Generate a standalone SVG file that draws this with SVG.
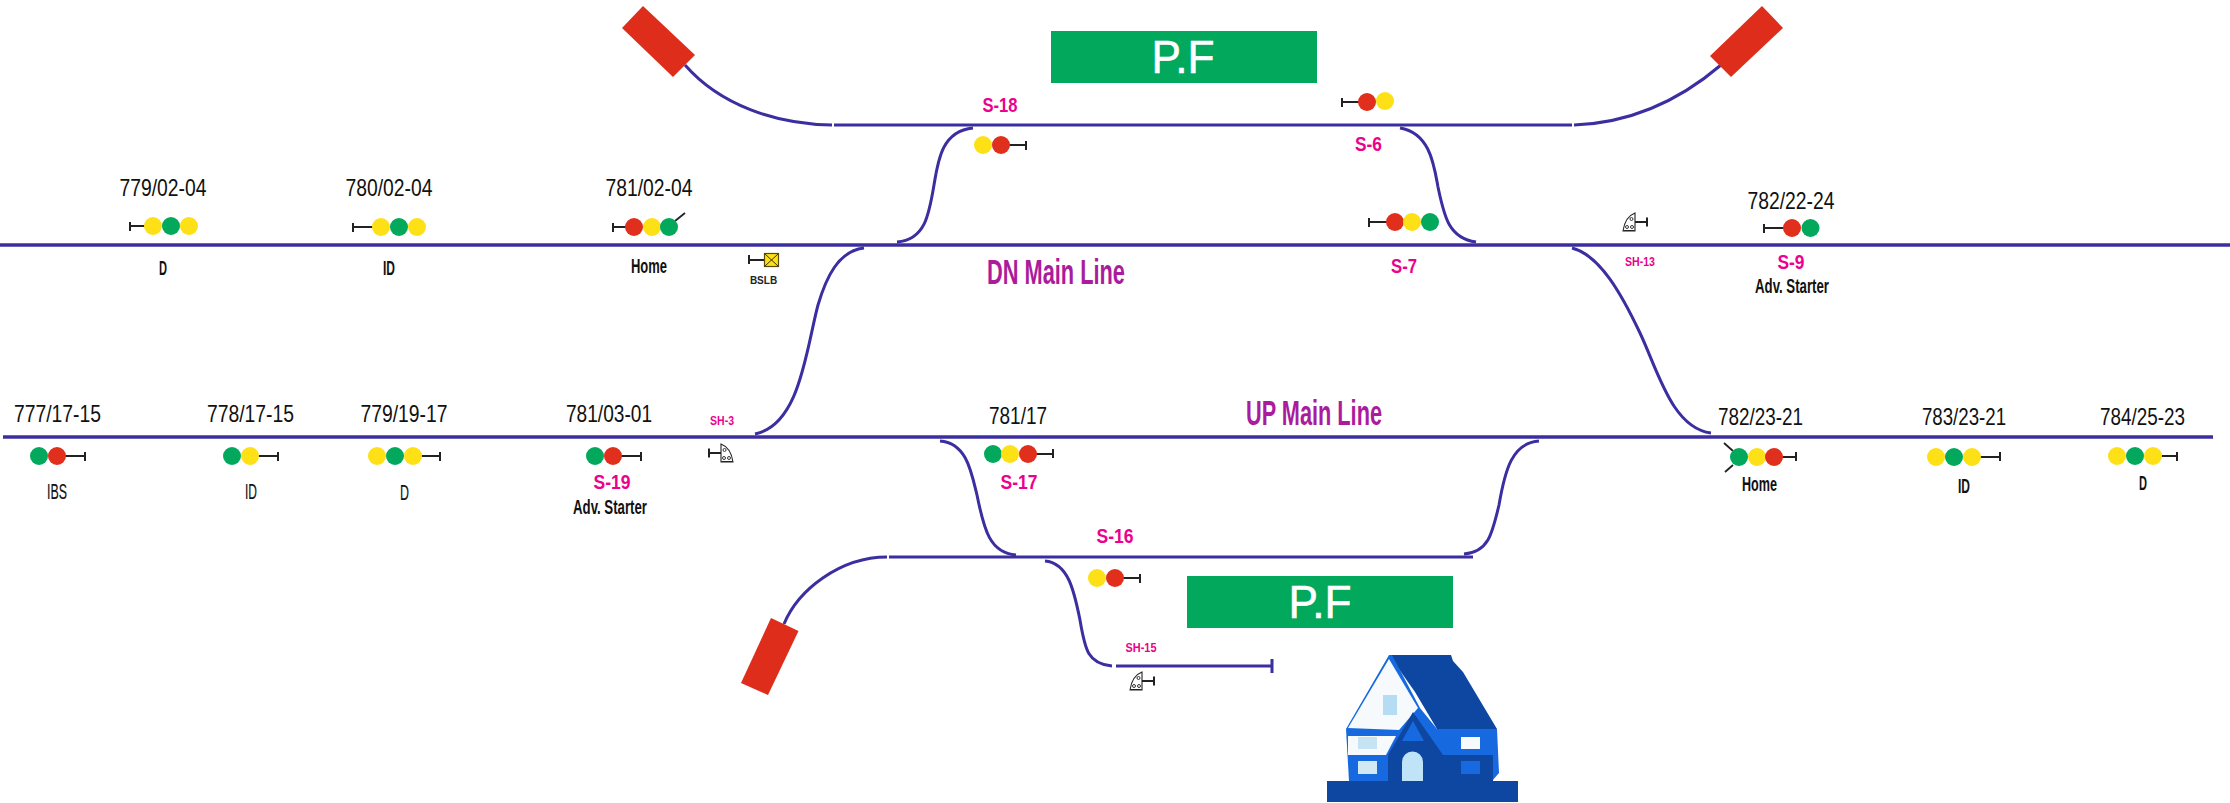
<svg xmlns="http://www.w3.org/2000/svg" xmlns:xlink="http://www.w3.org/1999/xlink" width="2230" height="803" viewBox="0 0 2230 803">
<style>
text{font-family:"Liberation Sans",Arial,sans-serif;text-anchor:middle}
.trk{fill:none;stroke:#3b2ea0;stroke-width:3;stroke-linecap:butt}
.main{stroke-width:3.6}
.km{font-size:24px;fill:#111}
.nm{font-size:22px;fill:#111;stroke:#111;stroke-width:.2}
.nb{font-size:21px;fill:#111;font-weight:bold}
.sig{font-size:21px;fill:#ec008c;font-weight:bold}
.sh{font-size:13px;fill:#ec008c;font-weight:bold}
.line{font-size:35px;fill:#ab1c9c;font-weight:bold}
.pft{font-size:47px;fill:#fff;stroke:#fff;stroke-width:.6}
.pf{fill:#02a85b}
.buf{fill:#de2e1b}
.r{fill:#e02f1d}.y{fill:#fde016}.g{fill:#02a85b}
.st{fill:none;stroke:#222;stroke-width:2}
.tk{fill:none;stroke:#222;stroke-width:1.8}
</style>
<defs>
<g id="dome">
<path d="M-12 0H0M0 -4.500V4.500" class="st"/>
<path d="M-12 -9C-20 -6 -23 2 -24 9H-12Z" fill="#fff" stroke="#222" stroke-width="1.100"/>
<path d="M-23.500 9V8H-12.500V9Z" fill="#222"/>
<circle cx="-15.500" cy="-3" r="1.500" fill="#fff" stroke="#222" stroke-width="0.900"/>
<circle cx="-20" cy="5" r="1.500" fill="#fff" stroke="#222" stroke-width="0.900"/>
<circle cx="-15" cy="5" r="1.500" fill="#fff" stroke="#222" stroke-width="0.900"/>
</g>
</defs>
<g id="connectors">
<path class="trk main" d="M0 245H2230"/>
<path class="trk main" d="M3 437H2213"/>
<path class="trk" d="M834 125H1572"/>
<path class="trk" d="M685 65C720 105 775 124 832 125"/>
<path class="trk" d="M1574 125C1630 123 1680 100 1721 65"/>
<path class="trk" d="M973 128C942 131 938 160 934 185C929 215 925 240 897 242"/>
<path class="trk" d="M1400 128C1430 133 1434 165 1438 187C1444 215 1448 238 1476 242"/>
<path class="trk" d="M864 248C838 251 826 278 818 305C806 350 800 425 755 434"/>
<path class="trk" d="M1572 248C1600 255 1622 295 1640 333C1658 371 1672 428 1711 433"/>
<path class="trk" d="M889 557H1473"/>
<path class="trk" d="M887 557C840 557 798 590 784 624"/>
<path class="trk" d="M940 441C966 443 971 470 977 495C984 530 990 553 1016 555"/>
<path class="trk" d="M1539 441C1512 443 1505 470 1499 505C1492 535 1488 552 1464 554"/>
<path class="trk" d="M1045 561C1068 563 1074 590 1080 620C1085 650 1088 664 1112 666"/>
<path class="trk" d="M1116 666H1271M1272 659V673"/>
</g>
<g id="buffer-1"><polygon class="buf" points="643,6 695,55 673,77 622,28"/></g>
<g id="buffer-2"><polygon class="buf" points="1762,6 1783,28 1731,77 1710,56"/></g>
<g id="buffer-3"><polygon class="buf" points="771,618 798.500,631 768,695 741,683"/></g>
<g id="pf-1"><rect class="pf" x="1051" y="31" width="266" height="52"/><text class="pft" x="1183" y="73" textLength="63" lengthAdjust="spacingAndGlyphs">P.F</text></g>
<g id="pf-2"><rect class="pf" x="1187" y="576" width="266" height="52"/><text class="pft" x="1320" y="618" textLength="63" lengthAdjust="spacingAndGlyphs">P.F</text></g>
<g id="line-labels">
<text class="line" x="1056" y="284" textLength="138" lengthAdjust="spacingAndGlyphs">DN Main Line</text>
<text class="line" x="1314" y="425" textLength="136" lengthAdjust="spacingAndGlyphs">UP Main Line</text>
</g>
<g id="sig-779-02-04">
<text class="km" x="163" y="196" textLength="87" lengthAdjust="spacingAndGlyphs">779/02-04</text>
<path class="st" d="M130 226H146M130 222V231"/><circle class="y" cx="153" cy="226" r="9"/><circle class="g" cx="171" cy="226" r="9"/><circle class="y" cx="189" cy="226" r="9"/>
<text class="nb" x="163" y="275" textLength="8" lengthAdjust="spacingAndGlyphs">D</text>
</g>
<g id="sig-780-02-04">
<text class="km" x="389" y="196" textLength="87" lengthAdjust="spacingAndGlyphs">780/02-04</text>
<path class="st" d="M353 227H375M353 223V232"/><circle class="y" cx="381" cy="227" r="9"/><circle class="g" cx="399" cy="227" r="9"/><circle class="y" cx="417" cy="227" r="9"/>
<text class="nb" x="389" y="275" textLength="12" lengthAdjust="spacingAndGlyphs">ID</text>
</g>
<g id="sig-781-02-04">
<text class="km" x="649" y="196" textLength="87" lengthAdjust="spacingAndGlyphs">781/02-04</text>
<path class="st" d="M613 227H628M613 223V232"/><path class="tk" d="M675 221L685 213"/><circle class="r" cx="634" cy="227" r="9"/><circle class="y" cx="652" cy="227" r="9"/><circle class="g" cx="669" cy="227" r="9"/>
<text class="nb" x="649" y="273" textLength="36" lengthAdjust="spacingAndGlyphs">Home</text>
</g>
<g id="bslb">
<path class="st" d="M749 260H764M749 255V264"/>
<rect x="764.500" y="253.500" width="14" height="13" fill="#fde016" stroke="#5a4a10" stroke-width="1.200"/>
<path d="M765 254L778 266M778 254L765 266" stroke="#3a3210" stroke-width="1" fill="none"/>
<text x="763.500" y="284" font-size="10" font-weight="bold" fill="#222">BSLB</text>
</g>
<g id="sig-s18">
<text class="sig" x="1000" y="112" textLength="35" lengthAdjust="spacingAndGlyphs">S-18</text>
<path class="st" d="M1008 145H1026M1026 141V150"/><circle class="y" cx="983" cy="145" r="9"/><circle class="r" cx="1001" cy="145" r="9"/>
</g>
<g id="sig-s6">
<path class="st" d="M1342 102H1360M1342 98V107"/><circle class="r" cx="1367" cy="102" r="9"/><circle class="y" cx="1385" cy="101" r="9"/>
<text class="sig" x="1368.500" y="151" textLength="27" lengthAdjust="spacingAndGlyphs">S-6</text>
</g>
<g id="sig-s7">
<path class="st" d="M1369 222H1388M1369 218V227"/><circle class="r" cx="1395" cy="222" r="9"/><circle class="y" cx="1412" cy="222" r="9"/><circle class="g" cx="1430" cy="222" r="9"/>
<text class="sig" x="1404" y="273" textLength="26" lengthAdjust="spacingAndGlyphs">S-7</text>
</g>
<g id="sh-13">
<use href="#dome" xlink:href="#dome" transform="translate(1647,222)"/>
<text class="sh" x="1640" y="266" textLength="30" lengthAdjust="spacingAndGlyphs">SH-13</text>
</g>
<g id="sig-s9">
<text class="km" x="1791" y="209" textLength="87" lengthAdjust="spacingAndGlyphs">782/22-24</text>
<path class="st" d="M1764 228H1785M1764 224V233"/><circle class="r" cx="1792" cy="228" r="9"/><circle class="g" cx="1810.500" cy="228" r="9"/>
<text class="sig" x="1791" y="269" font-size="22" textLength="27" lengthAdjust="spacingAndGlyphs">S-9</text>
<text class="nb" x="1792" y="293" textLength="74" lengthAdjust="spacingAndGlyphs">Adv. Starter</text>
</g>
<g id="sig-777">
<text class="km" x="57.500" y="422" textLength="87" lengthAdjust="spacingAndGlyphs">777/17-15</text>
<path class="st" d="M64 456H85M85 452V461"/><circle class="g" cx="39" cy="456" r="9"/><circle class="r" cx="57" cy="456" r="9"/>
<text class="nm" x="57" y="499" textLength="20" lengthAdjust="spacingAndGlyphs">IBS</text>
</g>
<g id="sig-778">
<text class="km" x="250.500" y="422" textLength="87" lengthAdjust="spacingAndGlyphs">778/17-15</text>
<path class="st" d="M257 456H278M278 452V461"/><circle class="g" cx="232" cy="456" r="9"/><circle class="y" cx="250" cy="456" r="9"/>
<text class="nm" x="251" y="499" textLength="12" lengthAdjust="spacingAndGlyphs">ID</text>
</g>
<g id="sig-779-19-17">
<text class="km" x="404" y="422" textLength="87" lengthAdjust="spacingAndGlyphs">779/19-17</text>
<path class="st" d="M420 456H440M440 452V461"/><circle class="y" cx="377" cy="456" r="9"/><circle class="g" cx="395" cy="456" r="9"/><circle class="y" cx="413" cy="456" r="9"/>
<text class="nm" x="404.500" y="500" textLength="9" lengthAdjust="spacingAndGlyphs">D</text>
</g>
<g id="sig-s19">
<text class="km" x="609" y="422" textLength="86" lengthAdjust="spacingAndGlyphs">781/03-01</text>
<path class="st" d="M620 456H641M641 452V461"/><circle class="g" cx="595" cy="456" r="9"/><circle class="r" cx="613" cy="456" r="9"/>
<text class="sig" x="612" y="489" font-size="22" textLength="37" lengthAdjust="spacingAndGlyphs">S-19</text>
<text class="nb" x="610" y="514" textLength="74" lengthAdjust="spacingAndGlyphs">Adv. Starter</text>
</g>
<g id="sh-3">
<use href="#dome" xlink:href="#dome" transform="translate(709,453) scale(-1,1)"/>
<text class="sh" x="722" y="425" textLength="24" lengthAdjust="spacingAndGlyphs">SH-3</text>
</g>
<g id="sig-s17">
<text class="km" x="1018" y="424" textLength="58" lengthAdjust="spacingAndGlyphs">781/17</text>
<path class="st" d="M1035 454H1053M1053 449V458"/><circle class="g" cx="993" cy="454" r="9"/><circle class="y" cx="1010" cy="454" r="9"/><circle class="r" cx="1028" cy="454" r="9"/>
<text class="sig" x="1019" y="489" font-size="22" textLength="37" lengthAdjust="spacingAndGlyphs">S-17</text>
</g>
<g id="sig-s16">
<text class="sig" x="1115" y="543" font-size="22" textLength="37" lengthAdjust="spacingAndGlyphs">S-16</text>
<path class="st" d="M1122 578H1140M1140 574V583"/><circle class="y" cx="1097" cy="578" r="9"/><circle class="r" cx="1115" cy="578" r="9"/>
</g>
<g id="sh-15">
<use href="#dome" xlink:href="#dome" transform="translate(1154,681)"/>
<text class="sh" x="1141" y="652" textLength="31" lengthAdjust="spacingAndGlyphs">SH-15</text>
</g>
<g id="sig-782-23-21">
<text class="km" x="1760.500" y="425" textLength="85" lengthAdjust="spacingAndGlyphs">782/23-21</text>
<path class="tk" d="M1724 443L1733 451M1725 472L1733 465"/><path class="st" d="M1780 457H1796M1796 452V461"/><circle class="g" cx="1739" cy="457" r="9"/><circle class="y" cx="1757" cy="457" r="9"/><circle class="r" cx="1774" cy="457" r="9"/>
<text class="nb" x="1759.500" y="491" textLength="35" lengthAdjust="spacingAndGlyphs">Home</text>
</g>
<g id="sig-783">
<text class="km" x="1964" y="425" textLength="84" lengthAdjust="spacingAndGlyphs">783/23-21</text>
<path class="st" d="M1979 457H2000M2000 452V461"/><circle class="y" cx="1936" cy="457" r="9"/><circle class="g" cx="1954" cy="457" r="9"/><circle class="y" cx="1972" cy="457" r="9"/>
<text class="nb" x="1964" y="493" textLength="12" lengthAdjust="spacingAndGlyphs">ID</text>
</g>
<g id="sig-784">
<text class="km" x="2142.500" y="425" textLength="85" lengthAdjust="spacingAndGlyphs">784/25-23</text>
<path class="st" d="M2160 456H2177M2177 452V461"/><circle class="y" cx="2117" cy="456" r="9"/><circle class="g" cx="2135" cy="456" r="9"/><circle class="y" cx="2153" cy="456" r="9"/>
<text class="nb" x="2143" y="490" textLength="8" lengthAdjust="spacingAndGlyphs">D</text>
</g>
<g id="house">
<polygon fill="#1769e0" points="1346,729 1497,729 1499,773 1492,781 1349,781"/>
<polygon fill="#0d47a1" points="1389,655 1451,655 1453,661 1463,672 1497,729 1437,729 1415,692"/>
<polygon fill="#1769e0" points="1389,655 1392,655 1420,708 1437,729 1443,754 1400,730 1346,729"/>
<polygon fill="#f6fafd" points="1389,659 1418,708 1399,730 1348,728"/>
<rect x="1383" y="695" width="14" height="20" fill="#b5dcf2"/>
<polygon fill="#f6fafd" points="1348,736 1396,736 1386,755 1348,755"/>
<rect x="1358" y="737" width="19" height="12" fill="#c5e3f3"/>
<polygon fill="#0d47a1" points="1413,712 1443,755 1493,755 1493,781 1388,781 1388,755"/>
<polygon fill="#1769e0" points="1413,721 1424,741 1402,741"/>
<path d="M1402 781V762A10.500 10.500 0 0 1 1423 762V781Z" fill="#bfe3f7"/>
<rect x="1358" y="761" width="19" height="13" fill="#d2e8f2"/>
<rect x="1461" y="737" width="19" height="12" fill="#f6fafd"/>
<rect x="1461" y="761" width="19" height="13" fill="#1769e0"/>
<rect x="1327" y="781" width="191" height="21" fill="#0d47a1"/>
</g>
</svg>
